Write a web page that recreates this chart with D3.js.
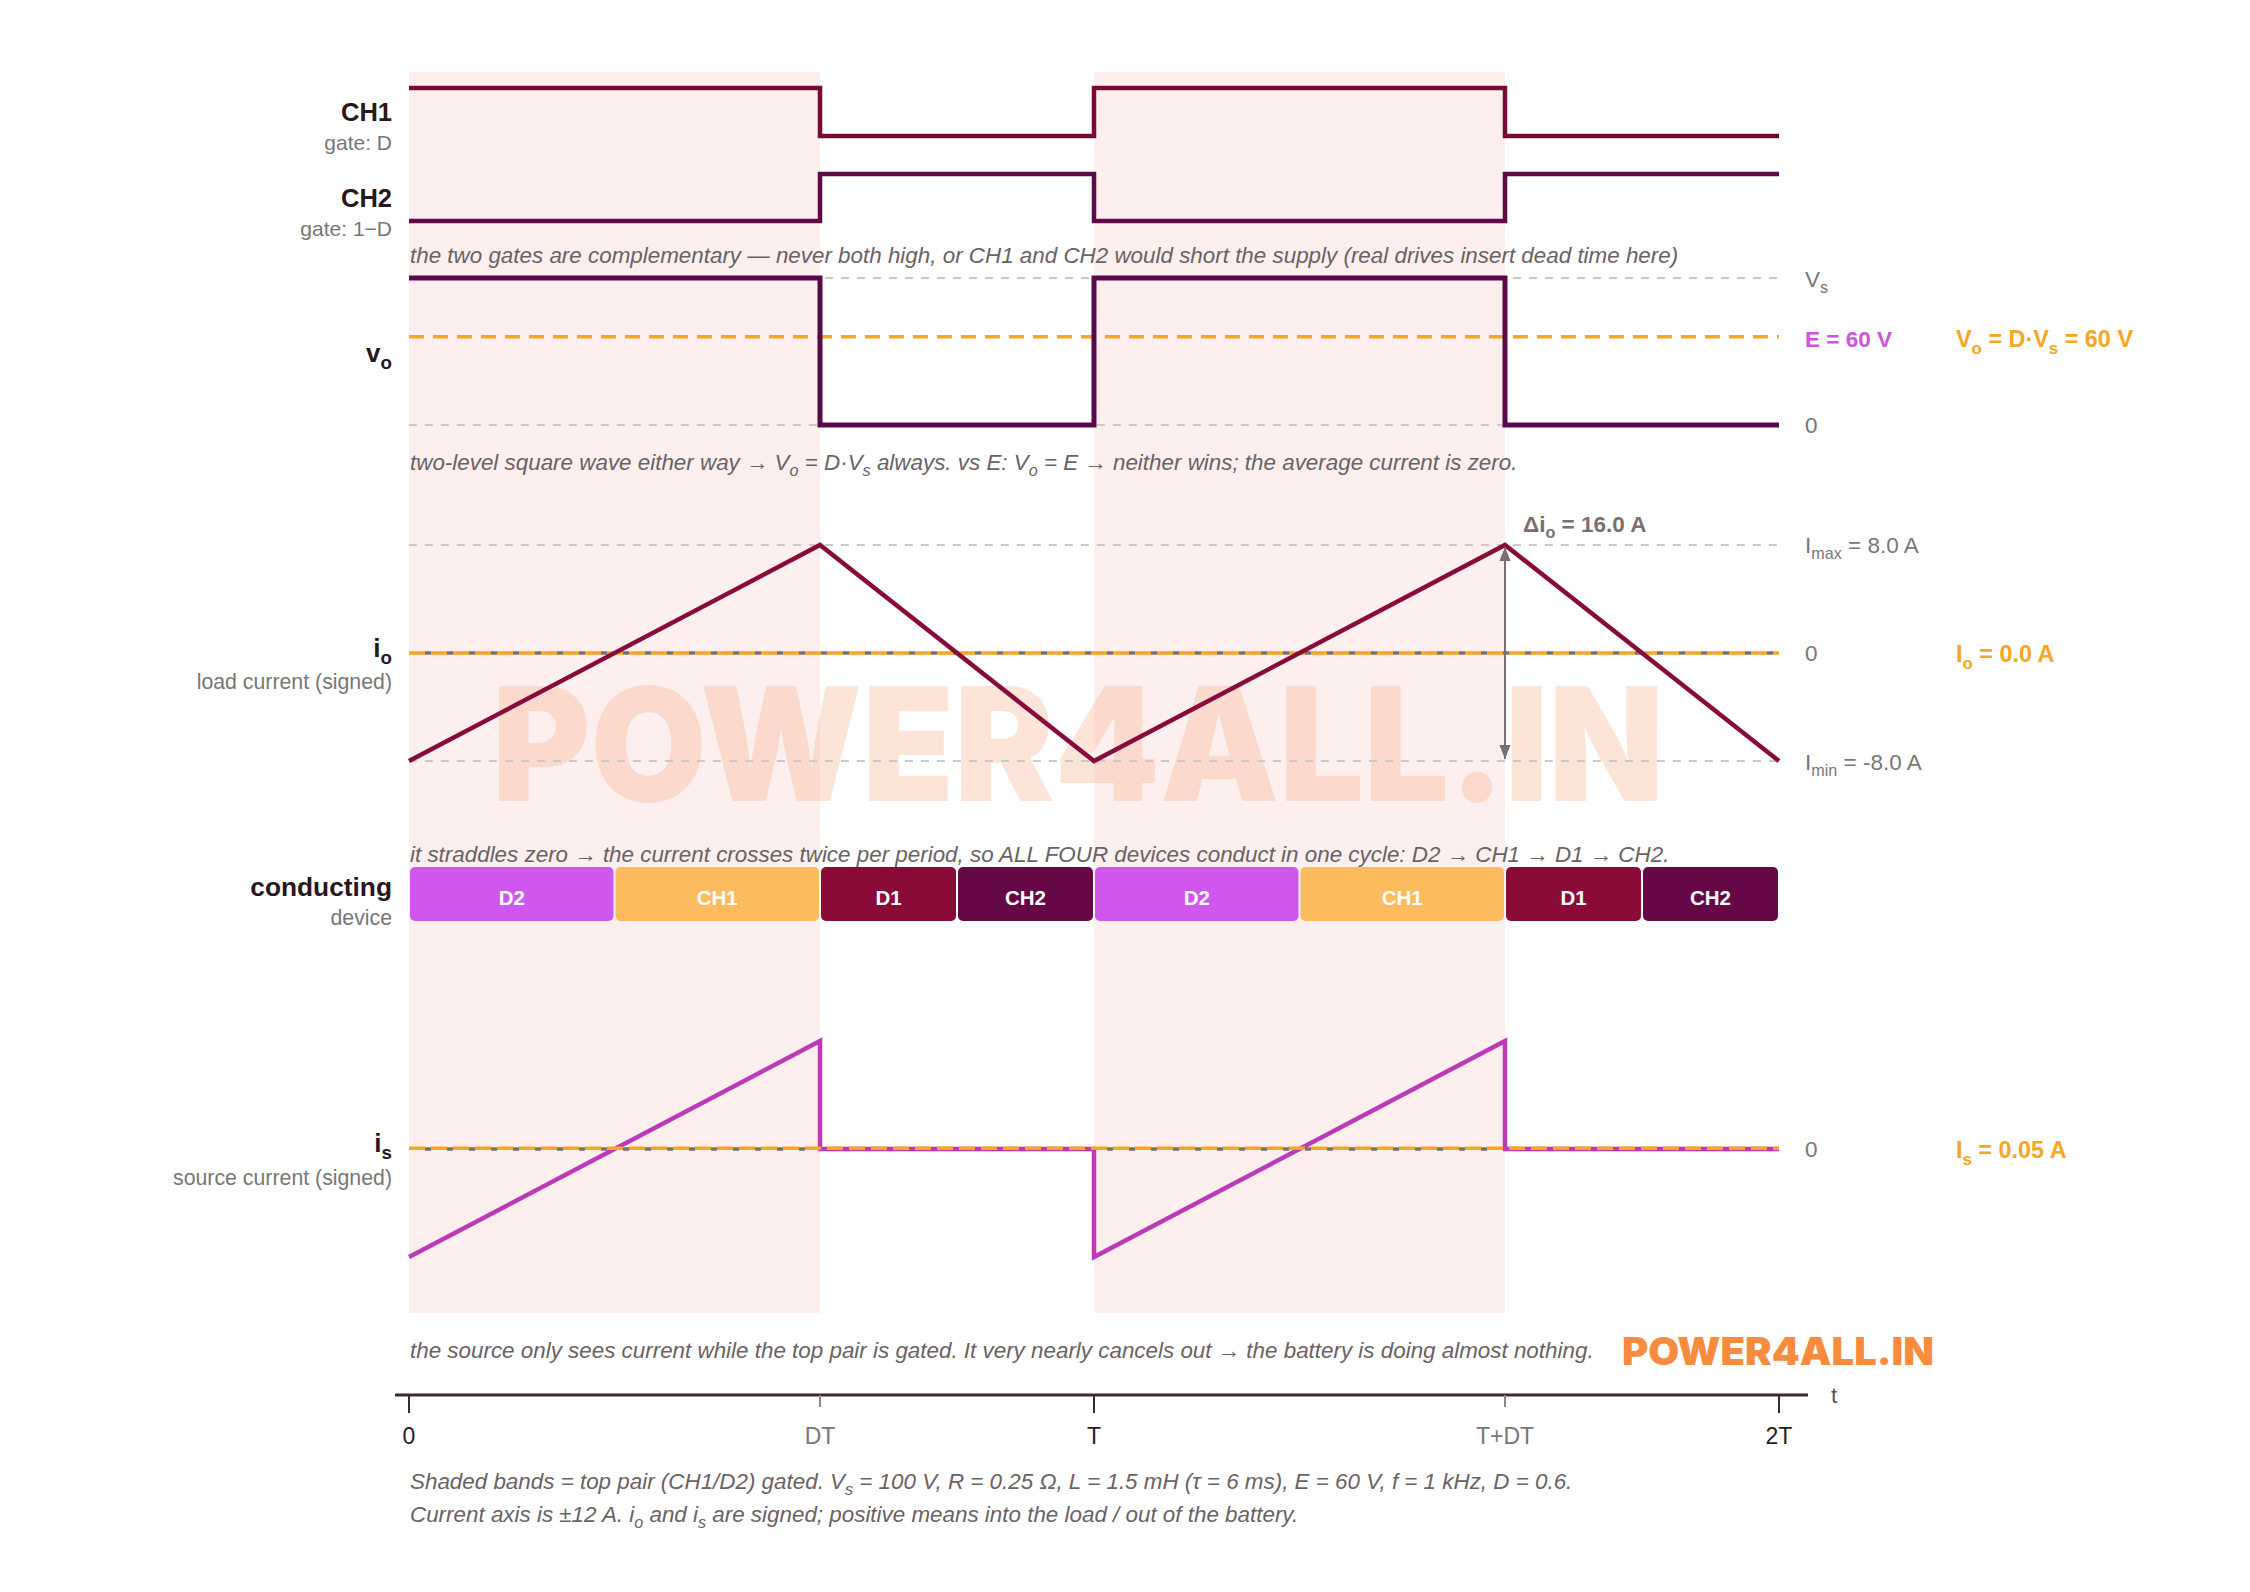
<!DOCTYPE html>
<html><head><meta charset="utf-8">
<script src="https://cdn.jsdelivr.net/npm/d3@7"></script>
<style>
html,body{margin:0;padding:0;background:#fff;}
svg{display:block;font-family:"Liberation Sans",Arial,sans-serif;}
</style></head>
<body>
<svg id="c" width="2250" height="1592"></svg>
<script>
// ---------- data ----------
const D = 0.6, Vs = 100, E = 60;
const tickVals = [0, 0.6, 1, 1.6, 2];
const tickLabels = ["0", "DT", "T", "T+DT", "2T"];
const shadedBands = [[0, 0.6], [1, 1.6]];
const ch1Gate = [[0,1],[0.6,1],[0.6,0],[1,0],[1,1],[1.6,1],[1.6,0],[2,0]];
const ch2Gate = [[0,0],[0.6,0],[0.6,1],[1,1],[1,0],[1.6,0],[1.6,1],[2,1]];
const voWave = [[0,100],[0.6,100],[0.6,0],[1,0],[1,100],[1.6,100],[1.6,0],[2,0]];
const ioWave = [[0,-8],[0.6,8],[1,-8],[1.6,8],[2,-8]];
const isWave = [[0,-8],[0.6,8],[0.6,0],[1,0],[1,-8],[1.6,8],[1.6,0],[2,0]];
const Imax = 8.0, Imin = -8.0, IoAvg = 0.0, IsAvg = 0.05;
const devices = ["D2","CH1","D1","CH2","D2","CH1","D1","CH2"];
const devStart = [0, 0.3, 0.6, 0.8, 1, 1.3, 1.6, 1.8];
const devEnd   = [0.3, 0.6, 0.8, 1, 1.3, 1.6, 1.8, 2];
const devColor = {D2:"#d057ee", CH1:"#fdbb5f", D1:"#8a0a38", CH2:"#660846"};

// ---------- layout ----------
const svg = d3.select("#c");
const x = d3.scaleLinear().domain([0,2]).range([409,1779]);
const yCH1 = d3.scaleLinear().domain([0,1]).range([136,88]);
const yCH2 = d3.scaleLinear().domain([0,1]).range([221,174]);
const yVo = d3.scaleLinear().domain([0,100]).range([425,278]);
const yIo = d3.scaleLinear().domain([-12,12]).range([815,491]);
const yIs = d3.scaleLinear().domain([-12,12]).range([1311,987]);
const line = (ys) => d3.line().x(d=>x(d[0])).y(d=>ys(d[1]));

const grayTxt = "#777", darkTxt = "#2a161c", capTxt = "#6a6264";
const orange = "#f6a623";

// shaded bands
svg.append("g").selectAll("rect").data(shadedBands).join("rect")
  .attr("x", d=>x(d[0])).attr("width", d=>x(d[1])-x(d[0]))
  .attr("y", 72).attr("height", 1313-72).attr("fill", "#fcefee");

// watermark
svg.append("text").attr("x", 1078).attr("y", 801).attr("text-anchor","middle")
  .attr("font-family","Inter, 'DejaVu Sans', sans-serif").attr("font-weight",900)
  .attr("font-size",158).attr("fill","#f9a27a").attr("opacity",0.28)
  .attr("textLength",1172).attr("lengthAdjust","spacingAndGlyphs")
  .text("POWER4ALL.IN");

// rich text helper
function rich(g, xx, yy, parts, opts) {
  const t = g.append("text").attr("x", xx).attr("y", yy)
    .attr("font-size", opts.size).attr("fill", opts.fill)
    .attr("text-anchor", opts.anchor || "start");
  if (opts.bold) t.attr("font-weight", "bold");
  if (opts.italic) t.attr("font-style", "italic");
  let sub = false;
  parts.forEach(p => {
    const isSub = Array.isArray(p);
    const s = t.append("tspan").text(isSub ? p[0] : p);
    if (isSub && !sub) { s.attr("dy", opts.size*0.28).attr("font-size", opts.size*0.72); sub = true; }
    else if (isSub) { s.attr("font-size", opts.size*0.72); }
    else if (!isSub && sub) { s.attr("dy", -opts.size*0.28); sub = false; }
  });
  return t;
}

const g = svg.append("g");

// gray dashed reference lines
const refs = [[yVo,100],[yVo,0],[yIo,Imax],[yIo,Imin]];
g.selectAll("line.ref").data(refs).join("line").attr("class","ref")
  .attr("x1", x(0)).attr("x2", x(2)).attr("y1", d=>d[0](d[1])).attr("y2", d=>d[0](d[1]))
  .attr("stroke","#cfc8c9").attr("stroke-width",2).attr("stroke-dasharray","8,8");

// E line in vo panel
g.append("line").attr("x1",x(0)).attr("x2",x(2)).attr("y1",yVo(E)).attr("y2",yVo(E))
  .attr("stroke",orange).attr("stroke-width",3.5).attr("stroke-dasharray","15,9");

// waveforms
g.append("path").datum(ch1Gate).attr("d", line(yCH1)).attr("fill","none")
  .attr("stroke","#780a36").attr("stroke-width",4.5);
g.append("path").datum(ch2Gate).attr("d", line(yCH2)).attr("fill","none")
  .attr("stroke","#5c0a48").attr("stroke-width",4.5);
g.append("path").datum(voWave).attr("d", line(yVo)).attr("fill","none")
  .attr("stroke","#580a48").attr("stroke-width",5);

// io zero reference + average line
g.append("line").attr("x1",x(0)).attr("x2",x(2)).attr("y1",yIo(0)).attr("y2",yIo(0))
  .attr("stroke","#7a7070").attr("stroke-width",3.5).attr("stroke-dasharray","6,16").attr("stroke-dashoffset",-16);
g.append("line").attr("x1",x(0)).attr("x2",x(2)).attr("y1",yIo(IoAvg)).attr("y2",yIo(IoAvg))
  .attr("stroke",orange).attr("stroke-width",3.5).attr("stroke-dasharray","16,6");
g.append("path").datum(ioWave).attr("d", line(yIo)).attr("fill","none")
  .attr("stroke","#870b3b").attr("stroke-width",4.5).attr("stroke-linejoin","miter");

// is
g.append("line").attr("x1",x(0)).attr("x2",x(2)).attr("y1",yIs(0)).attr("y2",yIs(0))
  .attr("stroke","#7a7070").attr("stroke-width",3.5).attr("stroke-dasharray","6,16").attr("stroke-dashoffset",-16);
g.append("path").datum(isWave).attr("d", line(yIs)).attr("fill","none")
  .attr("stroke","#bb3ab8").attr("stroke-width",4.5);
g.append("line").attr("x1",x(0)).attr("x2",x(2)).attr("y1",yIs(IsAvg)).attr("y2",yIs(IsAvg))
  .attr("stroke",orange).attr("stroke-width",3.5).attr("stroke-dasharray","16,6");

// delta arrow
const defs = svg.append("defs");
defs.append("marker").attr("id","ah").attr("viewBox","0 0 10 10").attr("refX",10).attr("refY",5)
  .attr("markerWidth",7).attr("markerHeight",7).attr("orient","auto-start-reverse")
  .append("path").attr("d","M0,1L10,5L0,9Z").attr("fill","#7b6e6e");
g.append("line").attr("x1",x(1.6)).attr("x2",x(1.6)).attr("y1",yIo(Imax)+2).attr("y2",yIo(Imin)-2)
  .attr("stroke","#7b6e6e").attr("stroke-width",2)
  .attr("marker-start","url(#ah)").attr("marker-end","url(#ah)");
rich(g, x(1.6)+18, yIo(Imax)-13, ["Δi",["o"]," = "+(Imax-Imin).toFixed(1)+" A"], {size:22.5, fill:"#7a6e6e", bold:true});

// conducting bars
const cb = g.append("g");
devices.forEach((d,i)=>{
  cb.append("rect").attr("x", x(devStart[i])+1).attr("width", x(devEnd[i])-x(devStart[i])-2)
    .attr("y", 867).attr("height", 54).attr("rx",5).attr("fill", devColor[d]);
  cb.append("text").attr("x",(x(devStart[i])+x(devEnd[i]))/2).attr("y",905)
    .attr("text-anchor","middle").attr("font-size",20.5).attr("font-weight","bold")
    .attr("fill","#fff").text(d);
});

// left labels
const L = 392;
rich(g, L, 121, ["CH1"], {size:25.5, fill:darkTxt, bold:true, anchor:"end"});
rich(g, L, 150, ["gate: D"], {size:21, fill:grayTxt, anchor:"end"});
rich(g, L, 207, ["CH2"], {size:25.5, fill:darkTxt, bold:true, anchor:"end"});
rich(g, L, 236, ["gate: 1−D"], {size:21, fill:grayTxt, anchor:"end"});
rich(g, L, 362, ["v",["o"]], {size:26, fill:darkTxt, bold:true, anchor:"end"});
rich(g, L, 657, ["i",["o"]], {size:26, fill:darkTxt, bold:true, anchor:"end"});
rich(g, L, 689, ["load current (signed)"], {size:21.3, fill:grayTxt, anchor:"end"});
rich(g, L, 896, ["conducting"], {size:26.3, fill:darkTxt, bold:true, anchor:"end"});
rich(g, L, 925, ["device"], {size:21.3, fill:grayTxt, anchor:"end"});
rich(g, L, 1152, ["i",["s"]], {size:26, fill:darkTxt, bold:true, anchor:"end"});
rich(g, L, 1185, ["source current (signed)"], {size:21.3, fill:grayTxt, anchor:"end"});

// right labels
const R1 = 1805, R2 = 1956;
rich(g, R1, 287, ["V",["s"]], {size:22.5, fill:grayTxt});
rich(g, R1, 347, ["E = "+E+" V"], {size:22.5, fill:"#cc55dd", bold:true});
rich(g, R1, 433, ["0"], {size:22.5, fill:grayTxt});
rich(g, R2, 347, ["V",["o"]," = D·V",["s"]," = "+(D*Vs)+" V"], {size:23.4, fill:orange, bold:true});
rich(g, R1, 553, ["I",["max"]," = "+Imax.toFixed(1)+" A"], {size:22.5, fill:grayTxt});
rich(g, R1, 661, ["0"], {size:22.5, fill:grayTxt});
rich(g, R1, 770, ["I",["min"]," = "+Imin.toFixed(1)+" A"], {size:22.5, fill:grayTxt});
rich(g, R2, 662, ["I",["o"]," = "+IoAvg.toFixed(1)+" A"], {size:23.4, fill:orange, bold:true});
rich(g, R1, 1157, ["0"], {size:22.5, fill:grayTxt});
rich(g, R2, 1158, ["I",["s"]," = "+IsAvg.toFixed(2)+" A"], {size:23.4, fill:orange, bold:true});

// captions
const cap = {size:22.4, fill:capTxt, italic:true};
rich(g, 410, 263, ["the two gates are complementary — never both high, or CH1 and CH2 would short the supply (real drives insert dead time here)"], cap);
rich(g, 410, 470, ["two-level square wave either way → V",["o"]," = D·V",["s"]," always. vs E: V",["o"]," = E → neither wins; the average current is zero."], cap);
rich(g, 410, 862, ["it straddles zero → the current crosses twice per period, so ALL FOUR devices conduct in one cycle: D2 → CH1 → D1 → CH2."], cap);
rich(g, 410, 1358, ["the source only sees current while the top pair is gated. It very nearly cancels out → the battery is doing almost nothing."], cap);

// logo
g.append("text").attr("x",1622).attr("y",1365).attr("font-family","Inter, 'DejaVu Sans', sans-serif")
  .attr("font-weight",900).attr("font-size",38).attr("fill","#f78c3e")
  .attr("textLength",312).attr("lengthAdjust","spacingAndGlyphs").text("POWER4ALL.IN");

// time axis
const ax = g.append("g");
ax.append("line").attr("x1",395).attr("x2",1808).attr("y1",1395).attr("y2",1395)
  .attr("stroke","#3a2a2e").attr("stroke-width",3);
ax.append("text").attr("x",1831).attr("y",1403).attr("font-size",22.5).attr("fill","#555").text("t");
ax.selectAll("line.tk").data(tickVals).join("line").attr("class","tk")
  .attr("x1",d=>x(d)).attr("x2",d=>x(d)).attr("y1",1395)
  .attr("y2",(d,i)=> i%2===0 ? 1413 : 1407)
  .attr("stroke",(d,i)=> i%2===0 ? "#3a2a2e" : "#888").attr("stroke-width",2);
ax.selectAll("text.tl").data(tickVals).join("text").attr("class","tl")
  .attr("x",d=>x(d)).attr("y",1444).attr("text-anchor","middle").attr("font-size",23)
  .attr("fill",(d,i)=> i%2===0 ? "#2a1a1e" : "#777").text((d,i)=>tickLabels[i]);

// footnotes
rich(g, 410, 1489, ["Shaded bands = top pair (CH1/D2) gated. V",["s"]," = "+Vs+" V, R = 0.25 Ω, L = 1.5 mH (τ = 6 ms), E = "+E+" V, f = 1 kHz, D = "+D+"."], {size:22.4, fill:capTxt, italic:true});
rich(g, 410, 1522, ["Current axis is ±12 A. i",["o"]," and i",["s"]," are signed; positive means into the load / out of the battery."], {size:22.4, fill:capTxt, italic:true});
</script>
</body></html>
